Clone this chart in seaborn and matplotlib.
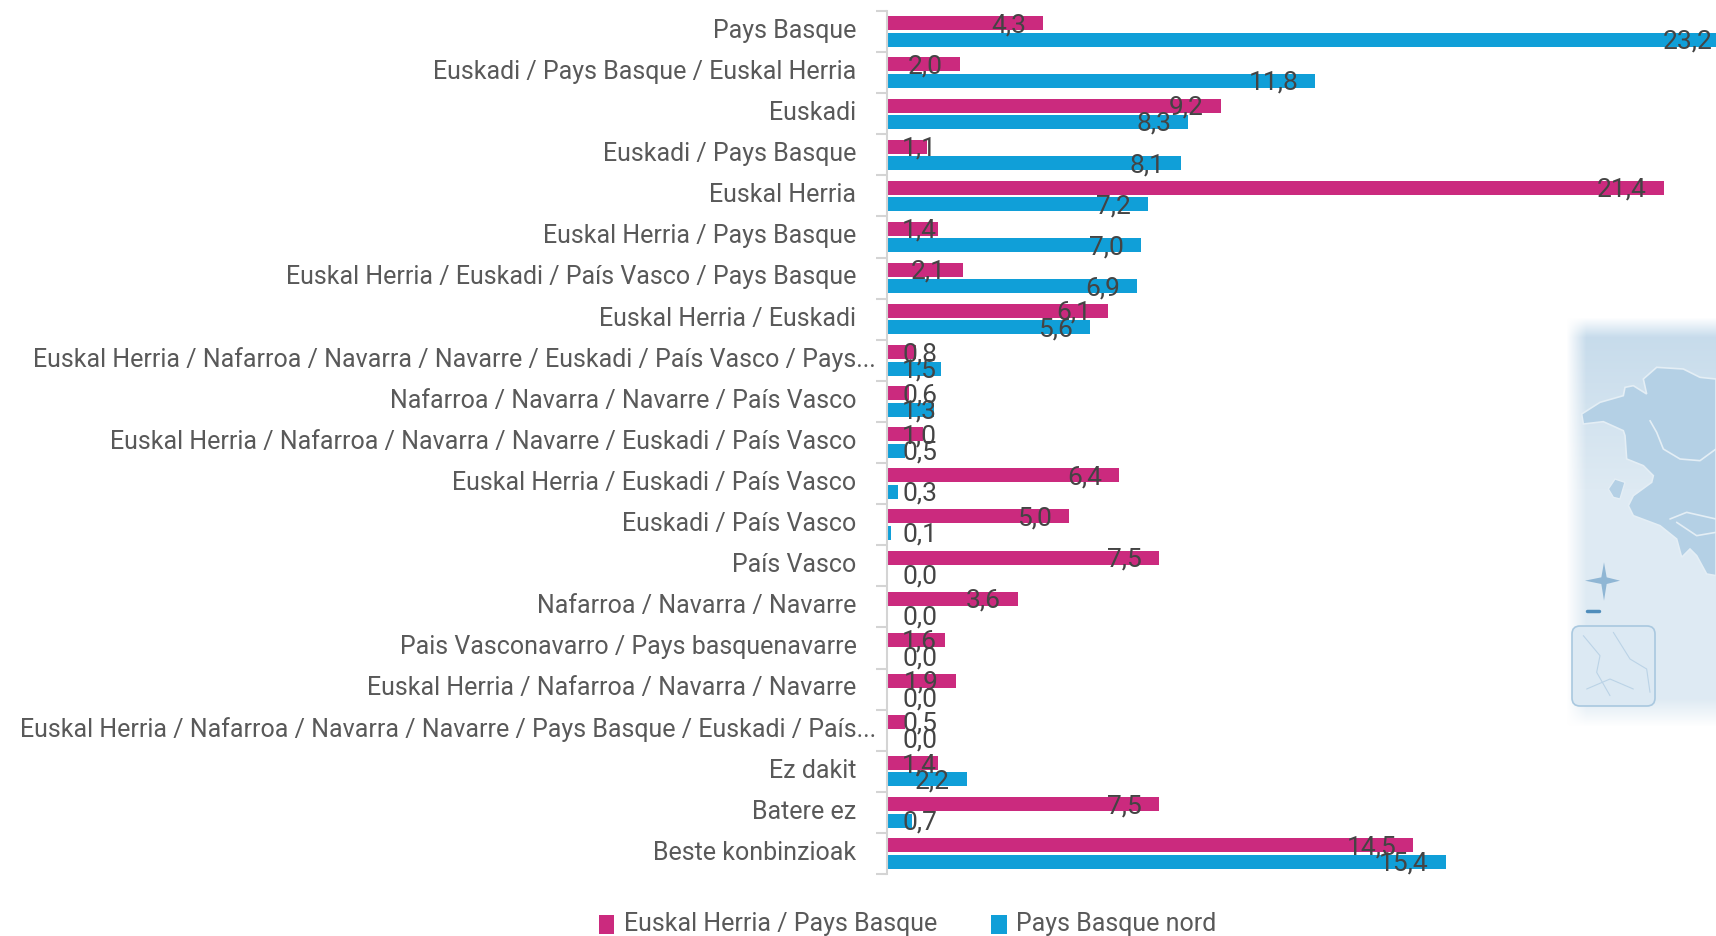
import matplotlib
matplotlib.use('Agg')
import matplotlib.pyplot as plt
import numpy as np
import pandas as pd
import seaborn as sns
from matplotlib.patches import FancyBboxPatch, Polygon
from matplotlib.transforms import ScaledTranslation

categories = [
    'Pays Basque', 'Euskadi / Pays Basque / Euskal Herria', 'Euskadi',
    'Euskadi / Pays Basque', 'Euskal Herria', 'Euskal Herria / Pays Basque',
    'Euskal Herria / Euskadi / País Vasco / Pays Basque', 'Euskal Herria / Euskadi',
    'Euskal Herria / Nafarroa / Navarra / Navarre / Euskadi / País Vasco / Pays...',
    'Nafarroa / Navarra / Navarre / País Vasco',
    'Euskal Herria / Nafarroa / Navarra / Navarre / Euskadi / País Vasco',
    'Euskal Herria / Euskadi / País Vasco', 'Euskadi / País Vasco', 'País Vasco',
    'Nafarroa / Navarra / Navarre', 'Pais Vasconavarro / Pays basquenavarre',
    'Euskal Herria / Nafarroa / Navarra / Navarre',
    'Euskal Herria / Nafarroa / Navarra / Navarre / Pays Basque / Euskadi / País...',
    'Ez dakit', 'Batere ez', 'Beste konbinzioak',
]
herria = [4.3, 2.0, 9.2, 1.1, 21.4, 1.4, 2.1, 6.1, 0.8, 0.6, 1.0,
          6.4, 5.0, 7.5, 3.6, 1.6, 1.9, 0.5, 1.4, 7.5, 14.5]
nord = [23.2, 11.8, 8.3, 8.1, 7.2, 7.0, 6.9, 5.6, 1.5, 1.3, 0.5,
        0.3, 0.1, 0.0, 0.0, 0.0, 0.0, 0.0, 2.2, 0.7, 15.4]
series_names = ['Euskal Herria / Pays Basque', 'Pays Basque nord']
colors = ['#CB2A7E', '#109FD8']

W, H = 1716, 937
sns.set_style('white')
plt.rcParams['font.family'] = ['Roboto', 'DejaVu Sans']
fig = plt.figure(figsize=(W / 100, H / 100), dpi=100)


def zoomed(points):
    return [(1500 + a / 3, 300 + b / 3) for a, b in points]


# faded map in the background, pixel coordinates
bg = fig.add_axes([0, 0, 1, 1], zorder=0)
bg.set_xlim(0, W)
bg.set_ylim(H, 0)
bg.axis('off')
ys = np.arange(H)
gx = np.clip((np.arange(W) - 1566) / 20, 0, 1)
gy = np.clip((ys - 318) / 20, 0, 1) * np.clip((727 - ys) / 28, 0, 1)
top_col = np.array(matplotlib.colors.to_rgb('#C6DBEB'))
low_col = np.array(matplotlib.colors.to_rgb('#DEEAF3'))
mix = np.clip((ys - 330) / 160, 0, 1)[:, None, None]
rgba = np.zeros((H, W, 4))
rgba[..., :3] = top_col * (1 - mix) + low_col * mix
rgba[..., 3] = np.outer(gy, gx)
bg.imshow(rgba, extent=(0, W, H, 0), aspect='auto', zorder=1)

land = zoomed([(245, 345), (300, 310), (370, 290), (375, 265), (400, 260), (440, 285), (430, 240),
               (470, 205), (550, 210), (600, 235), (648, 240), (648, 830), (620, 825), (590, 770),
               (570, 750), (545, 775), (530, 720), (480, 680), (400, 650), (385, 620), (400, 590),
               (455, 550), (460, 530), (430, 500), (380, 480), (375, 410), (370, 395), (310, 368),
               (250, 375)])
bg.add_patch(Polygon(land, closed=True, fc='#B4D0E5', ec='#E4EEF5', lw=1.2, zorder=2))
island = zoomed([(325, 570), (345, 540), (375, 550), (360, 600), (340, 595)])
bg.add_patch(Polygon(island, closed=True, fc='#B4D0E5', ec='#E4EEF5', lw=1, zorder=2))
for line in [[(450, 365), (470, 400), (490, 450), (540, 480), (600, 485), (648, 450)],
             [(510, 660), (560, 640), (648, 660)],
             [(530, 670), (590, 710), (648, 700)]]:
    pts = np.array(zoomed(line))
    bg.plot(pts[:, 0], pts[:, 1], color='#E4EEF5', lw=1.2, zorder=3)
bg.add_patch(FancyBboxPatch((1572, 627), 83, 80, boxstyle='round,pad=0,rounding_size=8',
                            fc='#DCE9F3', ec='#A9C8DF', lw=1.2, zorder=2))
for line in [[(250, 1010), (300, 1070), (290, 1120), (330, 1190)],
             [(340, 1000), (390, 1080), (440, 1110), (450, 1180)],
             [(260, 1170), (330, 1140), (400, 1170)]]:
    pts = np.array(zoomed(line))
    bg.plot(pts[:, 0], pts[:, 1], color='#BBD3E6', lw=0.8, zorder=3)
star = zoomed([(312, 790), (320, 835), (360, 845), (320, 855), (312, 905), (304, 855), (255, 845), (304, 835)])
bg.add_patch(Polygon(star, closed=True, fc='#8FB6D4', ec='none', zorder=3))
bg.plot([1587, 1599], [612, 612], color='#4F8DBB', lw=2.5, zorder=3)

ax = fig.add_axes([887 / W, 1 - 875 / H, 1 - 887 / W, 863 / H], zorder=1)
ax.patch.set_alpha(0)

df = pd.DataFrame({'category': categories * 2,
                   'value': herria + nord,
                   'series': [series_names[0]] * len(herria) + [series_names[1]] * len(nord)})
sns.barplot(data=df, y='category', x='value', hue='series', palette=colors, width=0.8, gap=0.15,
            saturation=1, ax=ax, orient='h', linewidth=0)

scale = 36.3  # px per unit
ax.set_xlim(0, (W - 887) / scale)
ax.set_ylim(len(categories) - 0.5, -0.5)
ax.set_xlabel('')
ax.set_ylabel('')
ax.xaxis.set_visible(False)
sns.despine(ax=ax, top=True, right=True, bottom=True)
ax.spines['left'].set_color('#D4D4D4')
ax.spines['left'].set_linewidth(1.5)

ax.set_yticks(np.arange(len(categories) + 1) - 0.5, minor=True)
ax.tick_params(axis='y', which='minor', length=8, width=1.5, color='#D4D4D4', left=True)
ax.tick_params(axis='y', which='major', length=0, pad=22, labelsize=18, labelcolor='#595959')
for tick, label in zip(ax.yaxis.get_major_ticks(), categories):
    if label.endswith('...'):
        tick.set_pad(8)
for label in ax.get_yticklabels():
    label.set_transform(label.get_transform() + ScaledTranslation(0, 3 / 72, fig.dpi_scale_trans))

for values, off in [(herria, -0.2), (nord, 0.2)]:
    for i, v in enumerate(values):
        px = v * scale
        if px - 51 < 14:
            ax.annotate(f'{v:.1f}'.replace('.', ','), xy=(0, i + off), xytext=(15, -1),
                        textcoords='offset pixels', ha='left', va='center',
                        fontsize=19, color='#444444', annotation_clip=False)
        else:
            ax.annotate(f'{v:.1f}'.replace('.', ','), xy=(v, i + off), xytext=(-17, -1),
                        textcoords='offset pixels', ha='right', va='center',
                        fontsize=19, color='#444444', annotation_clip=False)

sns.move_legend(ax, 'lower left', bbox_to_anchor=(581 / W, -17 / H), bbox_transform=fig.transFigure,
                ncol=2, frameon=False, title=None, fontsize=18, labelcolor='#595959',
                handlelength=0.62, handleheight=0.8, handletextpad=0.4, columnspacing=2.15,
                borderpad=0.2)
for handle in ax.get_legend().get_patches():
    handle.set_height(13.5)
    handle.set_y(-2.25)

fig.savefig('out.png', dpi=100)
